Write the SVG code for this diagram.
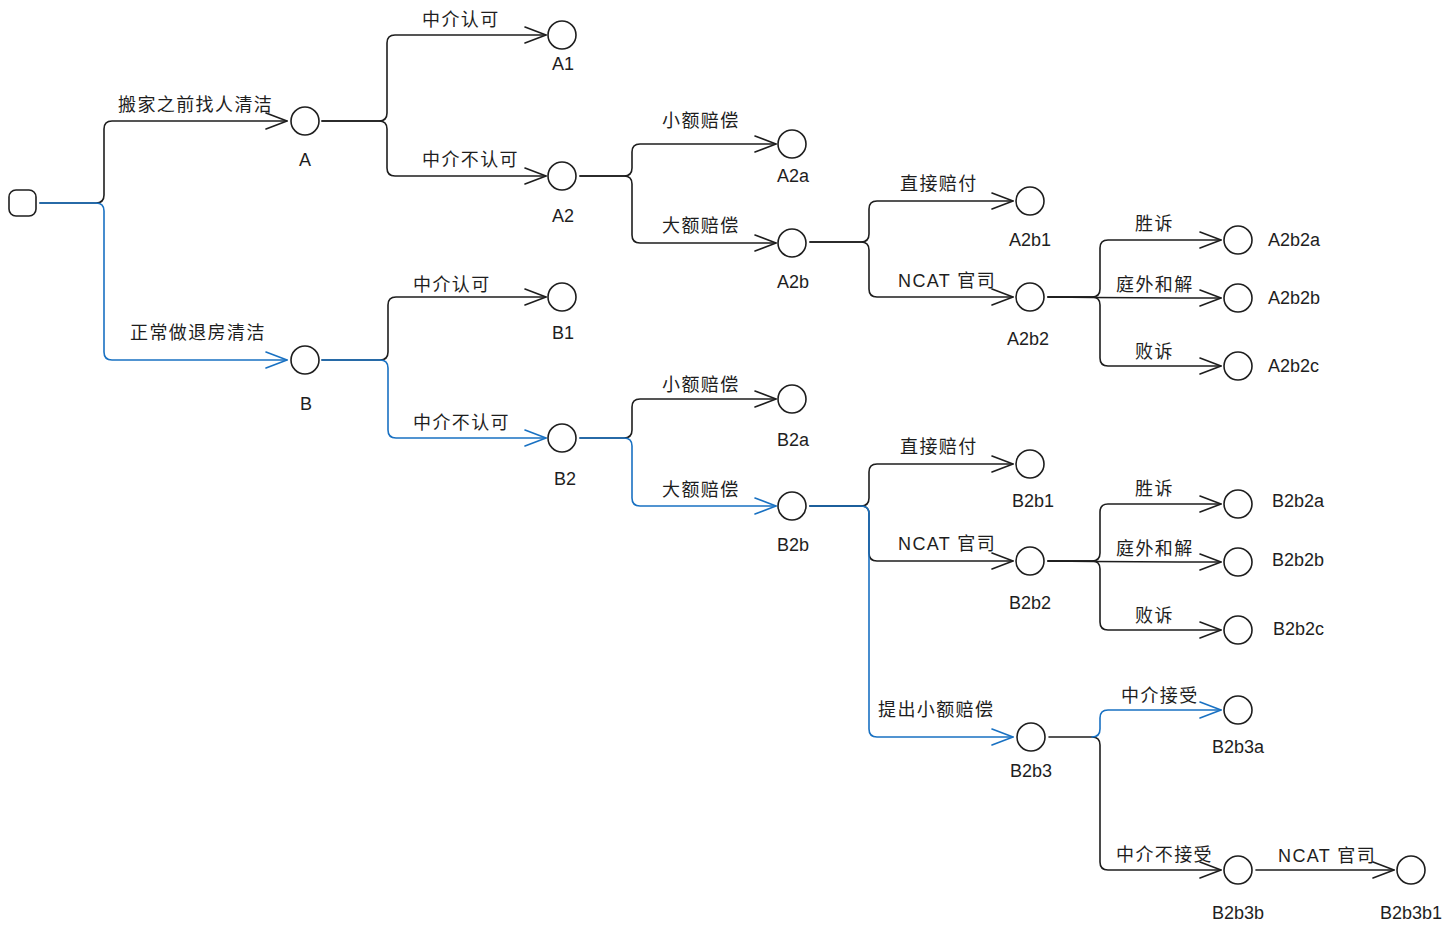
<svg xmlns="http://www.w3.org/2000/svg" width="1456" height="937" viewBox="0 0 1456 937">
<style>
.n{fill:#fff;stroke:#1e1e1e;stroke-width:1.6}
.c{fill:none;stroke:#1e1e1e;stroke-width:1.6;stroke-linecap:round;stroke-linejoin:round}
.cb{fill:none;stroke:#1971c2;stroke-width:1.6;stroke-linecap:round;stroke-linejoin:round}
.k{marker-end:url(#ak)}
.bl{marker-end:url(#ab)}
.t{font-family:"Liberation Sans","Noto Sans CJK SC",sans-serif;font-size:18px;fill:#1e1e1e;letter-spacing:1.4px}
.l{font-family:"Liberation Sans","Noto Sans CJK SC",sans-serif;font-size:18px;fill:#1e1e1e;text-anchor:middle}
.r{font-family:"Liberation Sans","Noto Sans CJK SC",sans-serif;font-size:18px;fill:#1e1e1e}
</style>
<defs>
<marker id="ak" viewBox="-22 -10 24 20" refX="0" refY="0" markerWidth="24" markerHeight="20" markerUnits="userSpaceOnUse" orient="auto">
<path d="M-21,-8 L0,0 L-21,8" fill="none" stroke="#1e1e1e" stroke-width="1.6" stroke-linecap="round" stroke-linejoin="round"/>
</marker>
<marker id="ab" viewBox="-22 -10 24 20" refX="0" refY="0" markerWidth="24" markerHeight="20" markerUnits="userSpaceOnUse" orient="auto">
<path d="M-21,-8 L0,0 L-21,8" fill="none" stroke="#1971c2" stroke-width="1.6" stroke-linecap="round" stroke-linejoin="round"/>
</marker>
</defs>
<rect width="1456" height="937" fill="#fff"/>
<g id="connectors">
<path class="c k" d="M40,203 H96 Q104,203 104,195 V129 Q104,121 112,121 H287"/>
<path class="cb bl" d="M40,203 H96 Q104,203 104,211 V352 Q104,360 112,360 H287"/>
<path class="c k" d="M322,121 H379 Q387,121 387,113 V43 Q387,35 395,35 H546"/>
<path class="c k" d="M322,121 H379 Q387,121 387,129 V168 Q387,176 395,176 H546"/>
<path class="c k" d="M322,360 H380 Q388,360 388,352 V305 Q388,297 396,297 H546"/>
<path class="cb bl" d="M322,360 H380 Q388,360 388,368 V430 Q388,438 396,438 H546"/>
<path class="c k" d="M580,176 H624 Q632,176 632,168 V152 Q632,144 640,144 H776"/>
<path class="c k" d="M580,176 H624 Q632,176 632,184 V235 Q632,243 640,243 H776"/>
<path class="c k" d="M580,438 H624 Q632,438 632,430 V407 Q632,399 640,399 H776"/>
<path class="cb bl" d="M580,438 H624 Q632,438 632,446 V498 Q632,506 640,506 H776"/>
<path class="c k" d="M810,242 H861 Q869,242 869,234 V209 Q869,201 877,201 H1013"/>
<path class="c k" d="M810,242 H861 Q869,242 869,250 V289 Q869,297 877,297 H1013"/>
<path class="c k" d="M810,506 H861 Q869,506 869,498 V472 Q869,464 877,464 H1013"/>
<path class="c k" d="M810,506 H861 Q869,506 869,514 V553 Q869,561 877,561 H1013"/>
<path class="cb bl" d="M810,506 H861 Q869,506 869,514 V729 Q869,737 877,737 H1013"/>
<path class="c k" d="M1048,297 H1092 Q1100,297 1100,289 V248 Q1100,240 1108,240 H1221"/>
<path class="c k" d="M1048,297 Q1140,298 1221,298"/>
<path class="c k" d="M1048,297 H1092 Q1100,297 1100,305 V358 Q1100,366 1108,366 H1221"/>
<path class="c k" d="M1048,561 H1092 Q1100,561 1100,553 V512 Q1100,504 1108,504 H1221"/>
<path class="c k" d="M1048,561 Q1140,562 1221,562"/>
<path class="c k" d="M1048,561 H1092 Q1100,561 1100,569 V622 Q1100,630 1108,630 H1221"/>
<path class="c k" d="M1049,737 H1092 Q1100,737 1100,745 V862 Q1100,870 1108,870 H1221"/>
<path class="cb bl" d="M1092,737 Q1100,737 1100,729 V718 Q1100,710 1108,710 H1221"/>
<path class="c k" d="M1256,870 H1394"/>
</g>
<g id="edge-labels">
<text class="t" x="118" y="111">搬家之前找人清洁</text>
<text class="t" x="130" y="339">正常做退房清洁</text>
<text class="t" x="422" y="26">中介认可</text>
<text class="t" x="422" y="166">中介不认可</text>
<text class="t" x="413" y="291">中介认可</text>
<text class="t" x="413" y="429">中介不认可</text>
<text class="t" x="662" y="127">小额赔偿</text>
<text class="t" x="662" y="232">大额赔偿</text>
<text class="t" x="662" y="391">小额赔偿</text>
<text class="t" x="662" y="496">大额赔偿</text>
<text class="t" x="900" y="190">直接赔付</text>
<text class="t" x="898" y="287">NCAT 官司</text>
<text class="t" x="1135" y="230">胜诉</text>
<text class="t" x="1116" y="291">庭外和解</text>
<text class="t" x="1135" y="358">败诉</text>
<text class="t" x="900" y="453">直接赔付</text>
<text class="t" x="898" y="550">NCAT 官司</text>
<text class="t" x="1135" y="495">胜诉</text>
<text class="t" x="1116" y="555">庭外和解</text>
<text class="t" x="1135" y="622">败诉</text>
<text class="t" x="878" y="716">提出小额赔偿</text>
<text class="t" x="1121" y="702">中介接受</text>
<text class="t" x="1116" y="861">中介不接受</text>
<text class="t" x="1278" y="862">NCAT 官司</text>
</g>
<g id="root"><rect class="n" x="9" y="190" width="27" height="26" rx="7"/></g>
<g id="A"><circle class="n" cx="305" cy="121" r="14"/><text class="l" x="305" y="166">A</text></g>
<g id="B"><circle class="n" cx="305" cy="360" r="14"/><text class="l" x="306" y="410">B</text></g>
<g id="A1"><circle class="n" cx="562" cy="35" r="14"/><text class="l" x="563" y="70">A1</text></g>
<g id="A2"><circle class="n" cx="562" cy="176" r="14"/><text class="l" x="563" y="222">A2</text></g>
<g id="B1"><circle class="n" cx="562" cy="297" r="14"/><text class="l" x="563" y="339">B1</text></g>
<g id="B2"><circle class="n" cx="562" cy="438" r="14"/><text class="l" x="565" y="485">B2</text></g>
<g id="A2a"><circle class="n" cx="792" cy="144" r="14"/><text class="l" x="793" y="182">A2a</text></g>
<g id="A2b"><circle class="n" cx="792" cy="243" r="14"/><text class="l" x="793" y="288">A2b</text></g>
<g id="B2a"><circle class="n" cx="792" cy="399" r="14"/><text class="l" x="793" y="446">B2a</text></g>
<g id="B2b"><circle class="n" cx="792" cy="506" r="14"/><text class="l" x="793" y="551">B2b</text></g>
<g id="A2b1"><circle class="n" cx="1030" cy="201" r="14"/><text class="l" x="1030" y="246">A2b1</text></g>
<g id="A2b2"><circle class="n" cx="1030" cy="297" r="14"/><text class="l" x="1028" y="345">A2b2</text></g>
<g id="B2b1"><circle class="n" cx="1030" cy="464" r="14"/><text class="l" x="1033" y="507">B2b1</text></g>
<g id="B2b2"><circle class="n" cx="1030" cy="561" r="14"/><text class="l" x="1030" y="609">B2b2</text></g>
<g id="B2b3"><circle class="n" cx="1031" cy="737" r="14"/><text class="l" x="1031" y="777">B2b3</text></g>
<g id="A2b2a"><circle class="n" cx="1238" cy="240" r="14"/><text class="r" x="1268" y="246">A2b2a</text></g>
<g id="A2b2b"><circle class="n" cx="1238" cy="298" r="14"/><text class="r" x="1268" y="304">A2b2b</text></g>
<g id="A2b2c"><circle class="n" cx="1238" cy="366" r="14"/><text class="r" x="1268" y="372">A2b2c</text></g>
<g id="B2b2a"><circle class="n" cx="1238" cy="504" r="14"/><text class="r" x="1272" y="507">B2b2a</text></g>
<g id="B2b2b"><circle class="n" cx="1238" cy="562" r="14"/><text class="r" x="1272" y="566">B2b2b</text></g>
<g id="B2b2c"><circle class="n" cx="1238" cy="630" r="14"/><text class="r" x="1273" y="635">B2b2c</text></g>
<g id="B2b3a"><circle class="n" cx="1238" cy="710" r="14"/><text class="l" x="1238" y="753">B2b3a</text></g>
<g id="B2b3b"><circle class="n" cx="1238" cy="870" r="14"/><text class="l" x="1238" y="919">B2b3b</text></g>
<g id="B2b3b1"><circle class="n" cx="1411" cy="870" r="14"/><text class="l" x="1411" y="919">B2b3b1</text></g>
</svg>
